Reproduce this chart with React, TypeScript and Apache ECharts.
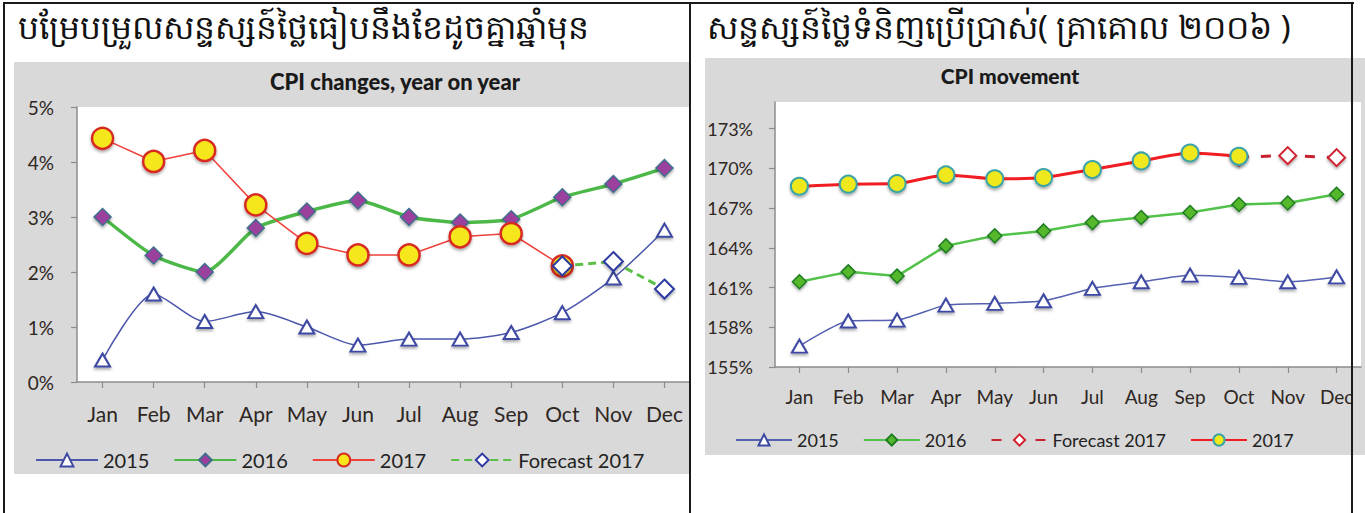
import React, { useEffect, useRef } from "react";
import * as echarts from "echarts";

const MONTHS = ["Jan", "Feb", "Mar", "Apr", "May", "Jun", "Jul", "Aug", "Sep", "Oct", "Nov", "Dec"];

// Left chart: CPI changes, year on year (%)
const YOY_2015 = [0.4, 1.6, 1.1, 1.28, 1.0, 0.67, 0.78, 0.78, 0.9, 1.26, 1.89, 2.76];
const YOY_2016 = [3.0, 2.3, 2.0, 2.8, 3.1, 3.3, 3.0, 2.9, 2.96, 3.36, 3.6, 3.89];
const YOY_2017 = [4.43, 4.01, 4.21, 3.22, 2.52, 2.31, 2.31, 2.64, 2.7, 2.11, null, null];
const YOY_FORECAST = [null, null, null, null, null, null, null, null, null, 2.11, 2.19, 1.69];
const YOY_TICKS = [0, 1, 2, 3, 4, 5];

// Right chart: CPI movement (%, base 2006)
const CPI_2015 = [156.58, 158.47, 158.54, 159.67, 159.8, 160.0, 160.93, 161.43, 161.93, 161.76, 161.43, 161.8];
const CPI_2016 = [161.43, 162.18, 161.86, 164.14, 164.9, 165.27, 165.9, 166.28, 166.66, 167.26, 167.38, 168.04];
const CPI_2017 = [168.64, 168.8, 168.84, 169.5, 169.2, 169.3, 169.9, 170.55, 171.15, 170.9, null, null];
const CPI_FORECAST = [null, null, null, null, null, null, null, null, null, 170.85, 170.95, 170.8];
const CPI_TICKS = [155, 158, 161, 164, 167, 170, 173];

const TITLE_LEFT_KM = "បម្រែបម្រួលសន្ទស្សន៍ថ្លៃធៀបនឹងខែដូចគ្នាឆ្នាំមុន";
const TITLE_RIGHT_KM = "សន្ទស្សន៍ថ្លៃទំនិញប្រើប្រាស់( គ្រាគោល ២០០៦ )";

const FONT = "Lato, 'Open Sans', sans-serif";
const KM_FONT = "'Noto Sans', 'DejaVu Sans', sans-serif";
const AXIS_COLOR = "#8c8c8c";
const LABEL_COLOR = "#2e2723";
const SHADOW = { shadowBlur: 3, shadowColor: "rgba(0,0,0,0.35)", shadowOffsetY: 2 };

function axisBase() {
  return {
    axisLine: { show: true, lineStyle: { color: AXIS_COLOR, width: 1.5 } },
    axisTick: { show: true, length: 6, lineStyle: { color: AXIS_COLOR, width: 1.2 } },
  };
}

function leftOption(): any {
  return {
    animation: false,
    title: {
      text: "CPI changes, year on year",
      left: 390,
      top: 65,
      textAlign: "center",
      textStyle: { fontFamily: FONT, fontSize: 22, fontWeight: 900, color: "#1a1a1a" },
    },
    graphic: [
      { type: "rect", z: -10, silent: true, shape: { x: 14, y: 62, width: 700, height: 412 }, style: { fill: "#d9d9d9" } },
      {
        type: "text",
        x: 18,
        y: 10,
        silent: true,
        style: { text: TITLE_LEFT_KM, fontSize: 33, fontFamily: KM_FONT, fill: "#111" },
      },
    ],
    grid: { left: 77, top: 107, width: 621, height: 275, show: true, backgroundColor: "#ffffff", borderWidth: 0 },
    xAxis: {
      type: "category",
      data: MONTHS,
      boundaryGap: true,
      ...axisBase(),
      axisTick: { show: true, alignWithLabel: true, length: 6, lineStyle: { color: AXIS_COLOR, width: 1.2 } },
      axisLabel: { interval: 0, fontFamily: FONT, fontSize: 21, color: LABEL_COLOR, margin: 21 },
    },
    yAxis: {
      type: "value",
      min: YOY_TICKS[0],
      max: YOY_TICKS[YOY_TICKS.length - 1],
      interval: 1,
      ...axisBase(),
      splitLine: { show: false },
      axisLabel: { formatter: "{value}%", fontFamily: FONT, fontSize: 19, color: LABEL_COLOR, margin: 23 },
    },
    legend: {
      left: 30,
      top: 445,
      itemWidth: 62,
      itemHeight: 16,
      itemGap: 24,
      selectedMode: false,
      textStyle: { fontFamily: FONT, fontSize: 20, color: "#222" },
      data: ["2015", "2016", "2017", "Forecast 2017"],
    },
    series: [
      {
        name: "2015",
        type: "line",
        data: YOY_2015,
        smooth: 0.25,
        symbol: "triangle",
        symbolSize: [15, 13],
        lineStyle: { color: "#4b56ac", width: 1.5 },
        itemStyle: { color: "#ffffff", borderColor: "#3d48a2", borderWidth: 2, ...SHADOW },
      },
      {
        name: "2016",
        type: "line",
        data: YOY_2016,
        smooth: 0.2,
        symbol: "diamond",
        symbolSize: 17,
        lineStyle: { color: "#4cb848", width: 3.5 },
        itemStyle: { color: "#9c3f9e", borderColor: "#3f6f8c", borderWidth: 1.5, ...SHADOW },
      },
      {
        name: "2017",
        type: "line",
        data: YOY_2017,
        symbol: "circle",
        symbolSize: 21,
        lineStyle: { color: "#f0403c", width: 1.5 },
        itemStyle: { color: "#f6e61a", borderColor: "#d62a22", borderWidth: 2.5, ...SHADOW },
      },
      {
        name: "Forecast 2017",
        type: "line",
        data: YOY_FORECAST,
        symbol: "diamond",
        symbolSize: 19,
        lineStyle: { color: "#5cbf48", width: 3, type: [8, 5] },
        itemStyle: { color: "#ffffff", borderColor: "#2d3aa2", borderWidth: 2, ...SHADOW },
      },
    ],
  };
}

function rightOption(): any {
  return {
    animation: false,
    title: {
      text: "CPI movement",
      left: 315,
      top: 60,
      textAlign: "center",
      textStyle: { fontFamily: FONT, fontSize: 21, fontWeight: 900, color: "#1a1a1a" },
    },
    graphic: [
      { type: "rect", z: -10, silent: true, shape: { x: 15, y: 58, width: 660, height: 397 }, style: { fill: "#d9d9d9" } },
      {
        type: "text",
        x: 17,
        y: 10,
        silent: true,
        style: { text: TITLE_RIGHT_KM, fontSize: 33, fontFamily: KM_FONT, fill: "#111" },
      },
    ],
    grid: { left: 85, top: 102, width: 586, height: 265, show: true, backgroundColor: "#ffffff", borderWidth: 0 },
    xAxis: {
      type: "category",
      data: MONTHS,
      boundaryGap: true,
      ...axisBase(),
      axisTick: { show: true, alignWithLabel: true, length: 6, lineStyle: { color: AXIS_COLOR, width: 1.2 } },
      axisLabel: { interval: 0, fontFamily: FONT, fontSize: 19, color: LABEL_COLOR, margin: 20 },
    },
    yAxis: {
      type: "value",
      min: CPI_TICKS[0],
      max: 175,
      interval: 3,
      ...axisBase(),
      axisTick: { show: true, length: 6, lineStyle: { color: AXIS_COLOR, width: 1.2 }, customValues: CPI_TICKS },
      splitLine: { show: false },
      axisLabel: {
        formatter: "{value}%",
        fontFamily: FONT,
        fontSize: 18,
        color: LABEL_COLOR,
        margin: 22,
        customValues: CPI_TICKS,
      },
    },
    legend: {
      left: 40,
      top: 426,
      itemWidth: 56,
      itemHeight: 14,
      itemGap: 24,
      selectedMode: false,
      textStyle: { fontFamily: FONT, fontSize: 18, color: "#222" },
      data: ["2015", "2016", "Forecast 2017", "2017"],
    },
    series: [
      {
        name: "2015",
        type: "line",
        data: CPI_2015,
        smooth: 0.2,
        symbol: "triangle",
        symbolSize: [15, 13],
        lineStyle: { color: "#5560b0", width: 1.5 },
        itemStyle: { color: "#ffffff", borderColor: "#3d48a2", borderWidth: 2, ...SHADOW },
      },
      {
        name: "2016",
        type: "line",
        data: CPI_2016,
        symbol: "diamond",
        symbolSize: 14,
        lineStyle: { color: "#52c24a", width: 2.5 },
        itemStyle: { color: "#55b82c", borderColor: "#1f7d22", borderWidth: 1.5, ...SHADOW },
      },
      {
        name: "Forecast 2017",
        type: "line",
        data: CPI_FORECAST,
        symbol: "diamond",
        symbolSize: 17,
        lineStyle: { color: "#c8202e", width: 3, type: [10, 12] },
        itemStyle: { color: "#ffffff", borderColor: "#d0202e", borderWidth: 2, ...SHADOW },
      },
      {
        name: "2017",
        type: "line",
        data: CPI_2017,
        smooth: 0.2,
        symbol: "circle",
        symbolSize: 17,
        lineStyle: { color: "#f01e22", width: 3 },
        itemStyle: { color: "#eee81c", borderColor: "#3aa3a6", borderWidth: 2, ...SHADOW },
      },
    ],
  };
}

export default function App() {
  const leftRef = useRef<HTMLDivElement>(null);
  const rightRef = useRef<HTMLDivElement>(null);

  useEffect(() => {
    const l = echarts.init(leftRef.current!, null, { renderer: "svg" });
    const r = echarts.init(rightRef.current!, null, { renderer: "svg" });
    l.setOption(leftOption());
    r.setOption(rightOption());
    return () => {
      l.dispose();
      r.dispose();
    };
  }, []);

  const line = (s: React.CSSProperties) => <div style={{ position: "absolute", background: "#1a1a1a", ...s }} />;

  return (
    <div style={{ position: "absolute", left: 0, top: 0, width: 1365, height: 513, background: "#ffffff", overflow: "hidden" }}>
      <div ref={leftRef} style={{ position: "absolute", left: 0, top: 0, width: 690, height: 513, overflow: "hidden" }} />
      <div ref={rightRef} style={{ position: "absolute", left: 690, top: 0, width: 675, height: 513, overflow: "hidden" }} />
      {line({ left: 3, top: 2, width: 1351, height: 2 })}
      {line({ left: 3, top: 2, width: 2, height: 511 })}
      {line({ left: 689, top: 2, width: 2, height: 511 })}
      {line({ left: 1351, top: 2, width: 2, height: 511 })}
    </div>
  );
}
